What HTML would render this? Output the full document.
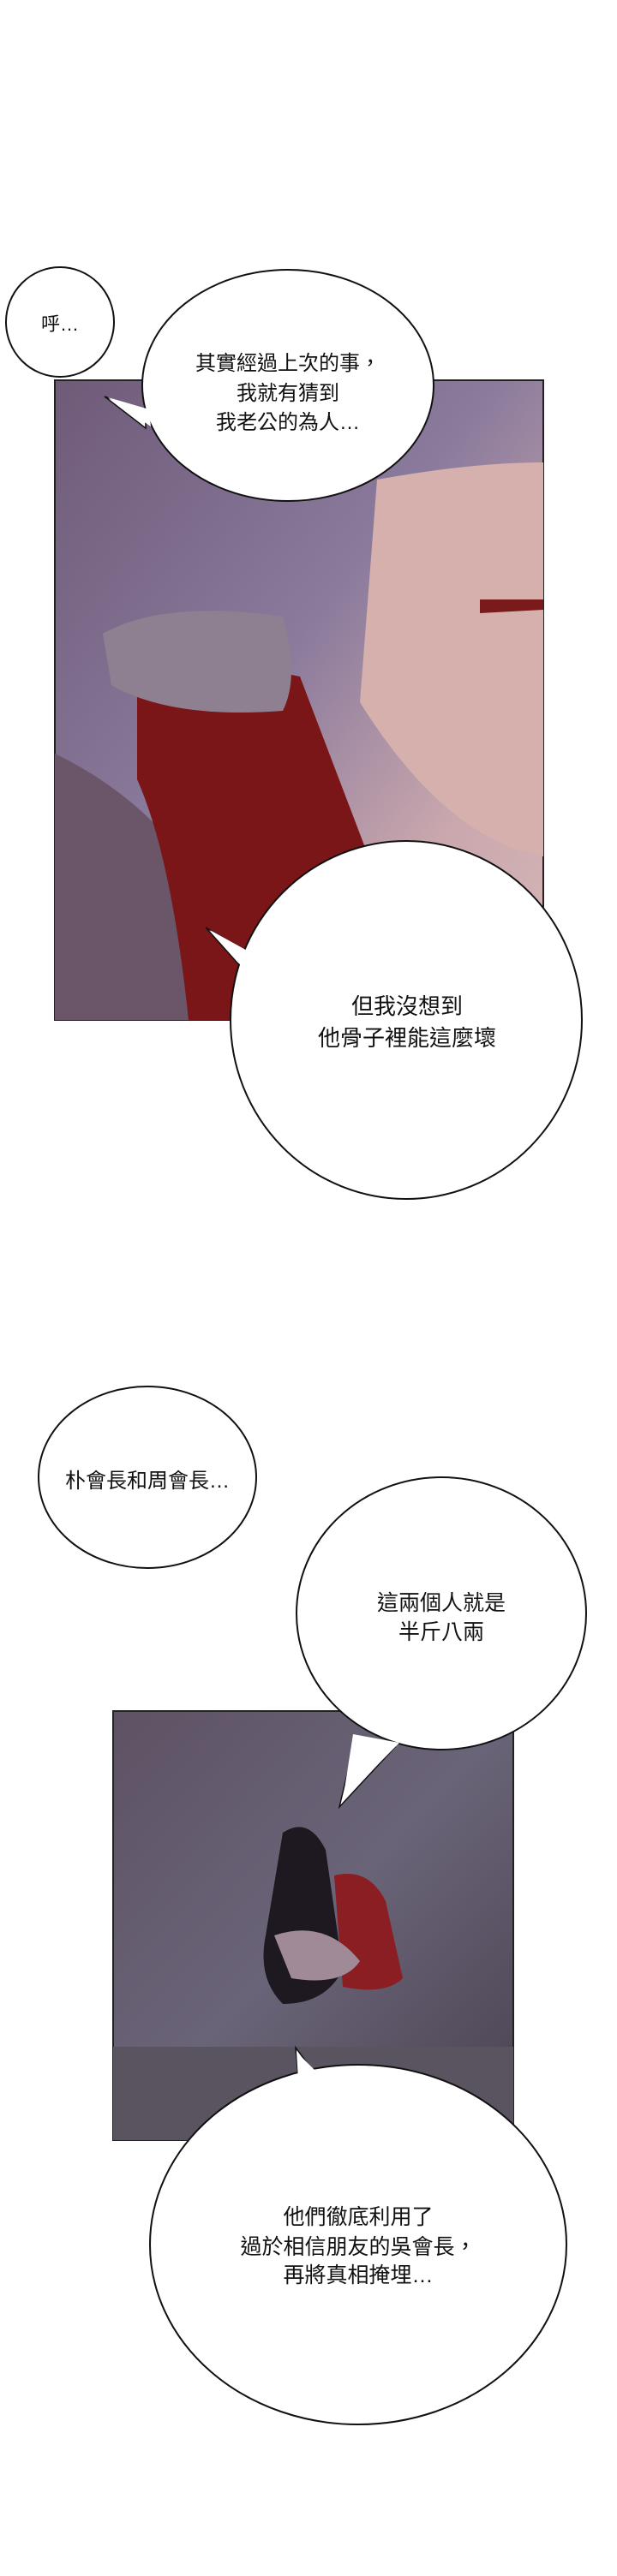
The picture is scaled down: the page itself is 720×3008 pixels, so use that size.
<!DOCTYPE html>
<html><head><meta charset="utf-8"><style>
body{margin:0;background:#fff}
svg{display:block}
text{font-family:"Liberation Sans","Noto Sans CJK TC",sans-serif;fill:#111;text-anchor:middle}
</style></head><body>
<svg width="720" height="3008" viewBox="0 0 720 3008" xmlns="http://www.w3.org/2000/svg">
<defs>
<linearGradient id="g1" x1="0" y1="0" x2="1" y2="1">
<stop offset="0" stop-color="#6f5a78"/><stop offset="0.45" stop-color="#8a7a9c"/><stop offset="0.75" stop-color="#c9a7ad"/><stop offset="1" stop-color="#d8b8b8"/></linearGradient>
<linearGradient id="g2" x1="0" y1="0" x2="1" y2="1">
<stop offset="0" stop-color="#5e5264"/><stop offset="0.5" stop-color="#6a6478"/><stop offset="1" stop-color="#4a4250"/></linearGradient>
</defs>
<!-- panel 1 -->
<rect x="64" y="444" width="570" height="747" fill="url(#g1)" stroke="#222" stroke-width="2"/>
<path d="M64 880 Q250 970 300 1191 L64 1191Z" fill="#6a5668"/>
<path d="M160 790 Q260 770 350 790 L430 1000 Q330 1130 300 1191 L220 1191 Q200 1000 160 910Z" fill="#7a1518"/>
<path d="M440 560 Q550 540 634 540 L634 1000 Q520 980 420 820Z" fill="#d5b0ad"/>
<path d="M120 740 Q190 700 330 720 Q350 790 330 830 Q200 840 130 800Z" fill="#8e8090"/>
<path d="M560 700 L634 700 L634 712 L560 716Z" fill="#7a1a1a"/>
<!-- panel 2 -->
<rect x="132" y="1998" width="467" height="501" fill="url(#g2)" stroke="#222" stroke-width="2"/>
<rect x="132" y="2390" width="467" height="109" fill="#5a5360"/>
<path d="M330 2140 Q360 2120 380 2160 L400 2300 Q380 2340 330 2340 Q300 2310 310 2260Z" fill="#1e1820"/>
<path d="M390 2190 Q430 2180 450 2220 L470 2310 Q450 2330 400 2320Z" fill="#8a1e22"/>
<path d="M320 2260 Q380 2240 420 2290 Q400 2320 340 2310Z" fill="#a08a98"/>
<!-- bubble 呼 -->
<ellipse cx="70" cy="376" rx="63" ry="64" fill="#fff" stroke="#111" stroke-width="2"/>
<text x="70" y="386" font-size="22">呼…</text>
<!-- bubble 2 -->
<path d="M122 463 L170 480 L170 500Z" fill="#fff" stroke="#111" stroke-width="1.5"/>
<ellipse cx="336" cy="450" rx="170" ry="135" fill="#fff" stroke="#111" stroke-width="2"/>
<path d="M126 464 L174 478 L176 498Z" fill="#fff"/>
<text x="336" y="432" font-size="24">其實經過上次的事，</text>
<text x="336" y="467" font-size="24">我就有猜到</text>
<text x="336" y="501" font-size="24">我老公的為人…</text>
<!-- bubble 3 -->
<path d="M240 1083 L288 1112 L282 1130Z" fill="#fff" stroke="#111" stroke-width="1.5"/>
<ellipse cx="474" cy="1191" rx="205" ry="209" fill="#fff" stroke="#111" stroke-width="2"/>
<path d="M245 1086 L292 1112 L285 1132Z" fill="#fff"/>
<text x="475" y="1184" font-size="26">但我沒想到</text>
<text x="475" y="1221" font-size="26">他骨子裡能這麼壞</text>
<!-- bubble 朴 -->
<ellipse cx="172" cy="1725" rx="127" ry="106" fill="#fff" stroke="#111" stroke-width="2"/>
<text x="172" y="1737" font-size="24">朴會長和周會長…</text>
<!-- bubble 這兩 -->
<path d="M396 2110 L415 2030 L461 2040Z" fill="#fff" stroke="#111" stroke-width="1.5"/>
<ellipse cx="515" cy="1884" rx="169" ry="159" fill="#fff" stroke="#111" stroke-width="2"/>
<path d="M400 2102 L412 2025 L466 2035Z" fill="#fff"/>
<text x="515" y="1880" font-size="25">這兩個人就是</text>
<text x="515" y="1914" font-size="25">半斤八兩</text>
<!-- bubble last -->
<path d="M345 2391 L348 2425 L365 2418Z" fill="#fff" stroke="#111" stroke-width="1.5"/>
<ellipse cx="418" cy="2621" rx="243" ry="210" fill="#fff" stroke="#111" stroke-width="2"/>
<path d="M346 2396 L348 2428 L370 2420Z" fill="#fff"/>
<text x="418" y="2597" font-size="25">他們徹底利用了</text>
<text x="418" y="2632" font-size="25">過於相信朋友的吳會長，</text>
<text x="418" y="2665" font-size="25">再將真相掩埋…</text>
</svg>
</body></html>
